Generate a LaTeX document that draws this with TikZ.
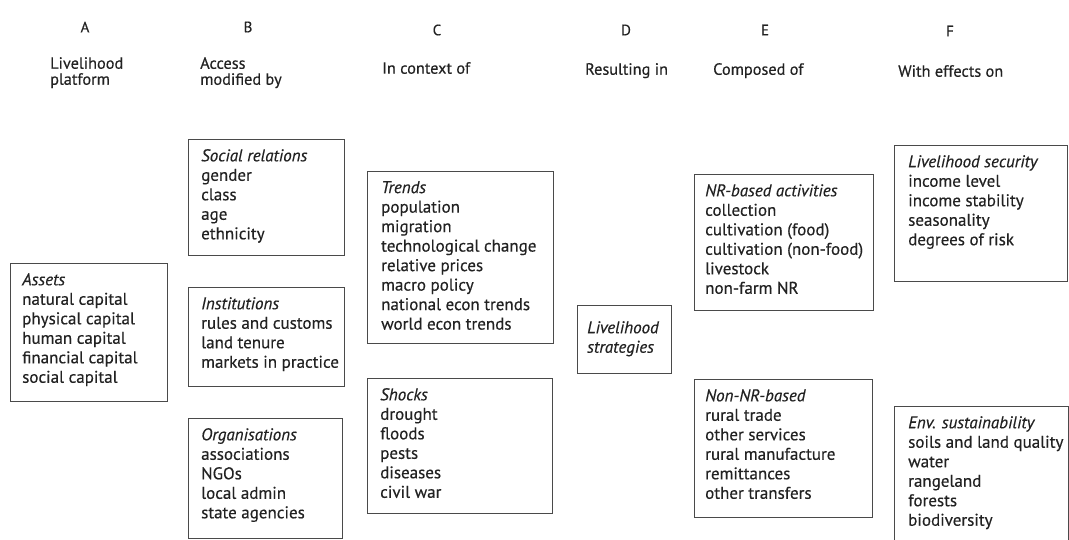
\documentclass[tikz,border=0pt]{standalone}
\usepackage{fontspec}
\setmainfont{PT Sans}
\newfontfamily\scanfont{PT Sans}[FakeBold=0.4]
\definecolor{ink}{HTML}{222222}
\definecolor{rule}{HTML}{4A4A4A}
\tikzset{
  box/.style={draw=rule, line width=1.3pt, anchor=north west, inner sep=0pt},
  boxtext/.style={anchor=north west, inner sep=0pt, align=left, text=ink,
    font=\scanfont\fontsize{17}{19.5}\selectfont},
  head/.style={anchor=north west, inner sep=0pt, align=left, text=ink,
    font=\scanfont\fontsize{16.3}{16}\selectfont},
  letter/.style={inner sep=0pt, text=ink, font=\scanfont\fontsize{15}{16}\selectfont}
}
\begin{document}
\begin{tikzpicture}[x=1pt,y=-1pt]
\useasboundingbox (0,0) rectangle (1069,540);
\clip (0,0) rectangle (1069,540);
% column letters
\node[letter] (la) at (85,27) {A};
\node[letter] (lb) at (248,27) {B};
\node[letter] (lc) at (437,30) {C};
\node[letter] (ld) at (626,30) {D};
\node[letter] (le) at (765,30) {E};
\node[letter] (lf) at (950,31) {F};
% column headings
\node[head] (ha) at (50,57) {Livelihood\\platform};
\node[head] (hb) at (200,57) {Access\\modified by};
\node[head] (hc) at (382,62) {In context of};
\node[head] (hd) at (585,63) {Resulting in};
\node[head] (he) at (713,63) {Composed of};
\node[head] (hf) at (898,65) {With effects on};
% boxes
\node[box, minimum width=157pt, minimum height=138pt] (assets) at (10,263) {};
\node[box, minimum width=156pt, minimum height=116pt] (social) at (188,139) {};
\node[box, minimum width=156pt, minimum height=99pt] (inst) at (188,287) {};
\node[box, minimum width=154pt, minimum height=120pt] (org) at (188,418) {};
\node[box, minimum width=186pt, minimum height=172pt] (trends) at (367,171) {};
\node[box, minimum width=185pt, minimum height=135pt] (shocks) at (367,378) {};
\node[box, minimum width=94pt, minimum height=68pt] (strat) at (577,305) {};
\node[box, minimum width=179pt, minimum height=136pt] (nr) at (694,174) {};
\node[box, minimum width=178pt, minimum height=138pt] (nonnr) at (694,379) {};
\node[box, minimum width=173pt, minimum height=136pt] (secur) at (894,145) {};
\node[box, minimum width=174pt, minimum height=150pt] (env) at (894,406) {};
% box texts
\node[boxtext] (tassets) at ([shift={(12,10)}]assets.north west)
  {\textit{Assets}\\natural capital\\physical capital\\human capital\\financial capital\\social capital};
\node[boxtext] (tsocial) at ([shift={(13,10)}]social.north west)
  {\textit{Social relations}\\gender\\class\\age\\ethnicity};
\node[boxtext] (tinst) at ([shift={(13,10)}]inst.north west)
  {\textit{Institutions}\\rules and customs\\land tenure\\markets in practice};
\node[boxtext] (torg) at ([shift={(13,10)}]org.north west)
  {\textit{Organisations}\\associations\\NGOs\\local admin\\state agencies};
\node[boxtext] (ttrends) at ([shift={(14,10)}]trends.north west)
  {\textit{Trends}\\population\\migration\\technological change\\relative prices\\macro policy\\national econ trends\\world econ trends};
\node[boxtext] (tshocks) at ([shift={(13,10)}]shocks.north west)
  {\textit{Shocks}\\drought\\floods\\pests\\diseases\\civil war};
\node[boxtext] (tstrat) at ([shift={(10,16)}]strat.north west)
  {\textit{Livelihood}\\\textit{strategies}};
\node[boxtext] (tnr) at ([shift={(11,10)}]nr.north west)
  {\textit{NR-based activities}\\collection\\cultivation (food)\\cultivation (non-food)\\livestock\\non-farm NR};
\node[boxtext] (tnonnr) at ([shift={(11,10)}]nonnr.north west)
  {\textit{Non-NR-based}\\rural trade\\other services\\rural manufacture\\remittances\\other transfers};
\node[boxtext] (tsecur) at ([shift={(14,10)}]secur.north west)
  {\textit{Livelihood security}\\income level\\income stability\\seasonality\\degrees of risk};
\node[boxtext] (tenv) at ([shift={(14,10)}]env.north west)
  {\textit{Env. sustainability}\\soils and land quality\\water\\rangeland\\forests\\biodiversity};
\end{tikzpicture}
\end{document}
